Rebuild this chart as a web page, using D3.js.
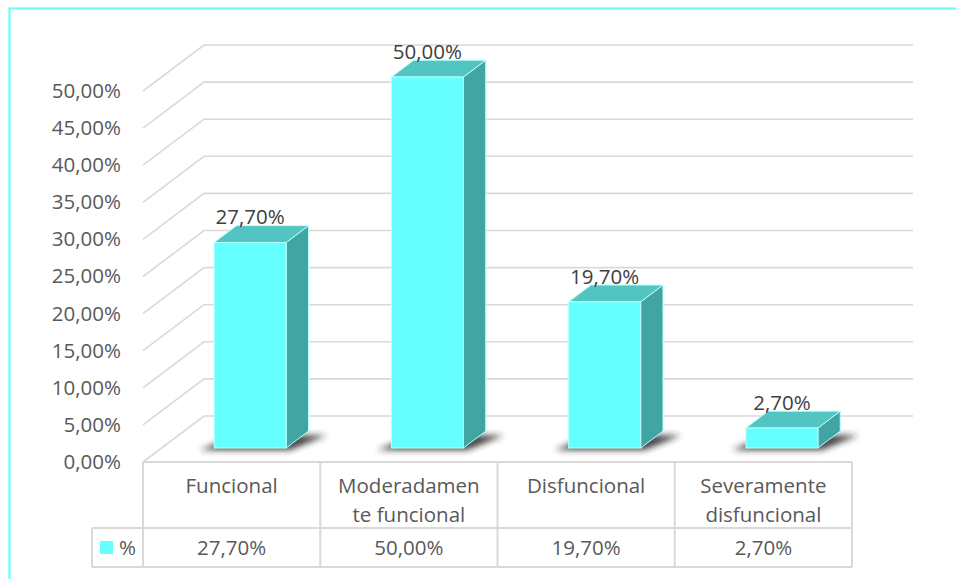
<!DOCTYPE html>
<html>
<head>
<meta charset="utf-8">
<script src="https://cdn.jsdelivr.net/npm/d3@7"></script>
<style>
  html, body { margin: 0; padding: 0; background: #fff; }
  svg { display: block; }
  text { font-family: "Open Sans", "Noto Sans", sans-serif; }
</style>
</head>
<body>
<svg id="chart" width="956" height="579"></svg>
<script>
// ---- data ----
const categories = ["Funcional", "Moderadamente funcional", "Disfuncional", "Severamente disfuncional"];
const categoryLines = [["Funcional"], ["Moderadamen", "te funcional"], ["Disfuncional"], ["Severamente", "disfuncional"]];
const values = [27.7, 50.0, 19.7, 2.7];
const seriesName = "%";
const tickValues = [0, 5, 10, 15, 20, 25, 30, 35, 40, 45, 50];

const fmt = v => d3.format(".2f")(v).replace(".", ",") + "%";

// ---- layout ----
const svg = d3.select("#chart");
const W = 956, H = 579;
const plotL = 143, plotR = 852;
const depthX = 61, depthY = -46;
const y = d3.scaleLinear().domain([0, 50]).range([462, 91]);
const x = d3.scaleBand().domain(categories).range([plotL, plotR]);
const barW = 72;
const zFront = 0.304, zBack = 0.67;

const textCol = "#595959";
const gridCol = "#d9d9d9";

// outer border
svg.append("rect")
  .attr("x", 9.5).attr("y", 8.5)
  .attr("width", W + 20).attr("height", H + 20)
  .attr("fill", "none").attr("stroke", "#66ffff").attr("stroke-width", 2.2);

// filter for shadows
const defs = svg.append("defs");
const f = defs.append("filter").attr("id", "blur").attr("x", "-30%").attr("y", "-100%").attr("width", "160%").attr("height", "300%");
f.append("feGaussianBlur").attr("stdDeviation", 3);

// gridlines (back wall + left side wall)
const grid = svg.append("g");
tickValues.forEach(t => {
  const yf = y(t);
  grid.append("polyline")
    .attr("points", `${plotL},${yf} ${plotL + depthX},${yf + depthY} ${plotR + depthX},${yf + depthY}`)
    .attr("fill", "none").attr("stroke", gridCol).attr("stroke-width", 1.6);
});

// y tick labels
svg.append("g").selectAll("text").data(tickValues).join("text")
  .attr("x", 121).attr("y", d => y(d) + 1.5)
  .attr("text-anchor", "end").attr("dominant-baseline", "middle")
  .attr("font-size", 20.5).attr("fill", textCol)
  .text(d => fmt(d));

// bars
const bars = svg.append("g");
categories.forEach((c, i) => {
  const v = values[i];
  const cx = x(c) + x.bandwidth() / 2 + depthX * zFront;
  const x0 = cx - barW / 2, x1 = cx + barW / 2;
  const yb = y(0) + depthY * zFront;
  const yt = y(v) + depthY * zFront;
  const dx = depthX * (zBack - zFront), dy = depthY * (zBack - zFront);

  // shadow
  bars.append("polygon")
    .attr("points", `${x0 - 14},${yb + 2} ${x1 + 4},${yb + 2} ${x1 + dx + 18},${yb + dy + 4} ${x0 + dx},${yb + dy + 4}`)
    .attr("fill", "#222").attr("opacity", 0.85).attr("filter", "url(#blur)");

  // right side face
  bars.append("polygon")
    .attr("points", `${x1},${yb} ${x1 + dx},${yb + dy} ${x1 + dx},${yt + dy} ${x1},${yt}`)
    .attr("fill", "#41a5a3").attr("stroke", "#b8ffff").attr("stroke-width", 1).attr("stroke-linejoin", "round");
  // top face
  bars.append("polygon")
    .attr("points", `${x0},${yt} ${x1},${yt} ${x1 + dx},${yt + dy} ${x0 + dx},${yt + dy}`)
    .attr("fill", "#52c4c1").attr("stroke", "#b8ffff").attr("stroke-width", 1).attr("stroke-linejoin", "round");
  // front face
  bars.append("rect")
    .attr("x", x0).attr("y", yt).attr("width", barW).attr("height", yb - yt)
    .attr("fill", "#66ffff").attr("stroke", "#b8ffff").attr("stroke-width", 1);

  // value label
  bars.append("text")
    .attr("x", cx).attr("y", yt - 18)
    .attr("text-anchor", "middle")
    .attr("font-size", 20.5).attr("fill", "#404040")
    .text(fmt(v));
});

// data table
const table = svg.append("g");
const rowTop = 462, rowMid = 528, rowBot = 567, legL = 92;
const tline = (x1, y1, x2, y2) => table.append("line")
  .attr("x1", x1).attr("y1", y1).attr("x2", x2).attr("y2", y2)
  .attr("stroke", gridCol).attr("stroke-width", 2);
tline(plotL, rowTop, plotR, rowTop);
tline(legL, rowMid, plotR, rowMid);
tline(legL, rowBot, plotR, rowBot);
tline(legL, rowMid, legL, rowBot);
categories.forEach(c => tline(x(c), rowTop, x(c), rowBot));
tline(plotR, rowTop, plotR, rowBot);

categories.forEach((c, i) => {
  const cx = x(c) + x.bandwidth() / 2;
  const t = table.append("text").attr("text-anchor", "middle")
    .attr("font-size", 20.5).attr("fill", textCol);
  categoryLines[i].forEach((ln, j) => {
    t.append("tspan").attr("x", cx).attr("y", 493 + j * 29).text(ln);
  });
  table.append("text").attr("x", cx).attr("y", 555)
    .attr("text-anchor", "middle").attr("font-size", 20.5).attr("fill", textCol)
    .text(fmt(values[i]));
});

// legend key
table.append("rect").attr("x", 100).attr("y", 541).attr("width", 13).attr("height", 13).attr("fill", "#66ffff");
table.append("text").attr("x", 119).attr("y", 555).attr("font-size", 20.5).attr("fill", textCol).text(seriesName);
</script>
</body>
</html>
